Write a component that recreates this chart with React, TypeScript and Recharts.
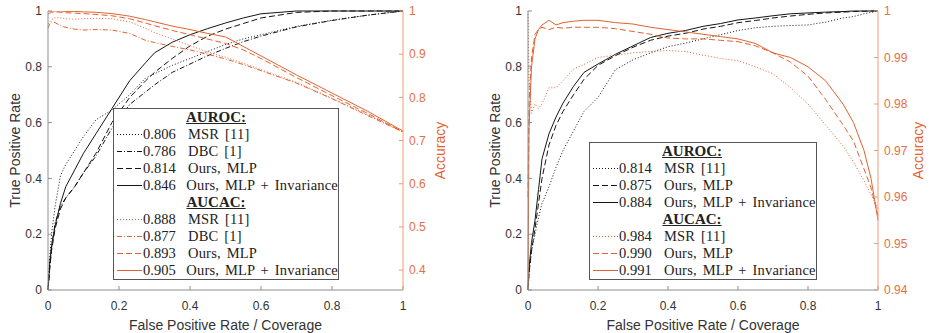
import React from "react";
import { LineChart, Line, XAxis, YAxis } from "recharts";

const ORANGE = "#E2622F";
const BLACK = "#151515";
const FRAME = "#8f8f8f";
const ACC_AXIS = "#EE9A76";
const TEXT = "#333";
const SANS = "'Liberation Sans', Arial, sans-serif";
const SERIF = "'Liberation Serif', 'Times New Roman', serif";

const fprTicks = [0, 0.2, 0.4, 0.6, 0.8, 1];

// left panel: FPR / coverage grid and curves
const leftX = [0, 0.005, 0.01, 0.02, 0.035, 0.05, 0.075, 0.1, 0.135, 0.18, 0.23, 0.275, 0.3, 0.35, 0.4, 0.45, 0.5, 0.55, 0.6, 0.7, 0.8, 0.9, 1];
const leftRocMsr = [0, 0.12, 0.2, 0.3, 0.41, 0.45, 0.5, 0.55, 0.61, 0.645, 0.7, 0.76, 0.775, 0.805, 0.83, 0.855, 0.88, 0.9, 0.915, 0.945, 0.967, 0.985, 1];
const leftRocDbc = [0, 0.08, 0.15, 0.24, 0.3, 0.33, 0.37, 0.42, 0.48, 0.58, 0.665, 0.71, 0.735, 0.78, 0.81, 0.84, 0.866, 0.89, 0.91, 0.943, 0.966, 0.985, 1];
const leftRocMlp = [0, 0.08, 0.14, 0.22, 0.29, 0.33, 0.37, 0.42, 0.49, 0.6, 0.69, 0.75, 0.78, 0.83, 0.875, 0.91, 0.935, 0.955, 0.975, 0.995, 1, 1, 1];
const leftRocInv = [0, 0.1, 0.16, 0.23, 0.31, 0.37, 0.43, 0.49, 0.56, 0.65, 0.75, 0.815, 0.85, 0.888, 0.915, 0.937, 0.957, 0.975, 0.99, 1, 1, 1, 1];
const leftAccMsr = [0.97, 0.975, 0.98, 0.985, 0.984, 0.982, 0.981, 0.982, 0.983, 0.982, 0.975, 0.96, 0.95, 0.935, 0.92, 0.905, 0.893, 0.879, 0.864, 0.835, 0.798, 0.76, 0.72];
const leftAccDbc = [0.96, 0.97, 0.975, 0.973, 0.966, 0.962, 0.958, 0.956, 0.957, 0.956, 0.948, 0.932, 0.927, 0.918, 0.91, 0.9, 0.889, 0.876, 0.862, 0.833, 0.797, 0.758, 0.72];
const leftAccMlp = [0.993, 0.995, 0.997, 0.998, 0.997, 0.996, 0.995, 0.994, 0.992, 0.989, 0.982, 0.972, 0.966, 0.955, 0.945, 0.935, 0.925, 0.91, 0.89, 0.846, 0.804, 0.763, 0.72];
const leftAccInv = [1, 1, 1, 1, 1, 0.999, 0.999, 0.998, 0.997, 0.994, 0.988, 0.98, 0.975, 0.965, 0.957, 0.948, 0.94, 0.918, 0.896, 0.852, 0.81, 0.768, 0.722];
const leftAccTicks = [0.4, 0.5, 0.6, 0.7, 0.8, 0.9, 1];

// right panel
const rightX = [0, 0.003, 0.01, 0.02, 0.03, 0.04, 0.06, 0.08, 0.1, 0.13, 0.16, 0.2, 0.25, 0.3, 0.35, 0.4, 0.45, 0.5, 0.55, 0.6, 0.65, 0.7, 0.75, 0.8, 0.85, 0.9, 0.93, 0.96, 0.98, 1];
const rightRocMsr = [0, 0.06, 0.14, 0.2, 0.26, 0.31, 0.37, 0.44, 0.5, 0.57, 0.64, 0.69, 0.79, 0.825, 0.85, 0.872, 0.885, 0.9, 0.915, 0.93, 0.94, 0.945, 0.948, 0.95, 0.96, 0.975, 0.98, 0.99, 0.995, 1];
const rightRocMlp = [0, 0.06, 0.14, 0.22, 0.31, 0.4, 0.52, 0.59, 0.64, 0.7, 0.755, 0.805, 0.84, 0.87, 0.895, 0.91, 0.92, 0.935, 0.945, 0.958, 0.966, 0.975, 0.982, 0.988, 0.993, 0.996, 0.998, 0.999, 1, 1];
const rightRocInv = [0, 0.08, 0.17, 0.25, 0.36, 0.47, 0.56, 0.62, 0.67, 0.73, 0.78, 0.81, 0.845, 0.875, 0.905, 0.92, 0.93, 0.945, 0.955, 0.968, 0.975, 0.983, 0.99, 0.993, 0.996, 0.998, 1, 1, 1, 1];
const rightAccMsr = [1, 0.985, 0.978, 0.98, 0.979, 0.98, 0.9835, 0.9835, 0.985, 0.9875, 0.9885, 0.99, 0.9905, 0.991, 0.9913, 0.9915, 0.9913, 0.9905, 0.9898, 0.9893, 0.988, 0.9865, 0.9835, 0.98, 0.9755, 0.971, 0.9675, 0.9635, 0.9605, 0.9575];
const rightAccMlp = [0.96, 0.98, 0.99, 0.995, 0.996, 0.9965, 0.996, 0.9965, 0.9963, 0.9965, 0.9965, 0.9965, 0.9962, 0.9956, 0.995, 0.9942, 0.994, 0.994, 0.9937, 0.9934, 0.9925, 0.991, 0.989, 0.986, 0.981, 0.9755, 0.972, 0.966, 0.962, 0.956];
const rightAccInv = [0.94, 0.975, 0.988, 0.994, 0.996, 0.997, 0.998, 0.997, 0.9975, 0.9978, 0.998, 0.998, 0.9975, 0.9972, 0.9965, 0.996, 0.9955, 0.995, 0.9945, 0.994, 0.993, 0.991, 0.99, 0.988, 0.985, 0.98, 0.976, 0.97, 0.964, 0.955];
const rightAccTicks = [0.94, 0.95, 0.96, 0.97, 0.98, 0.99, 1];

const DOTTED = "1 2";
const DASHDOT = "5 2 1 2";
const DASHED = "6 3";

type Series = { key: string; values: number[]; axis: "roc" | "acc"; color: string; dash?: string; auc: string; name: string };

const leftSeries: Series[] = [
  { key: "rocMsr", values: leftRocMsr, axis: "roc", color: BLACK, dash: DOTTED, auc: "0.806", name: "MSR [11]" },
  { key: "rocDbc", values: leftRocDbc, axis: "roc", color: BLACK, dash: DASHDOT, auc: "0.786", name: "DBC [1]" },
  { key: "rocMlp", values: leftRocMlp, axis: "roc", color: BLACK, dash: DASHED, auc: "0.814", name: "Ours, MLP" },
  { key: "rocInv", values: leftRocInv, axis: "roc", color: BLACK, auc: "0.846", name: "Ours, MLP + Invariance" },
  { key: "accMsr", values: leftAccMsr, axis: "acc", color: ORANGE, dash: DOTTED, auc: "0.888", name: "MSR [11]" },
  { key: "accDbc", values: leftAccDbc, axis: "acc", color: ORANGE, dash: DASHDOT, auc: "0.877", name: "DBC [1]" },
  { key: "accMlp", values: leftAccMlp, axis: "acc", color: ORANGE, dash: DASHED, auc: "0.893", name: "Ours, MLP" },
  { key: "accInv", values: leftAccInv, axis: "acc", color: ORANGE, auc: "0.905", name: "Ours, MLP + Invariance" },
];

const rightSeries: Series[] = [
  { key: "rocMsr", values: rightRocMsr, axis: "roc", color: BLACK, dash: DOTTED, auc: "0.814", name: "MSR [11]" },
  { key: "rocMlp", values: rightRocMlp, axis: "roc", color: BLACK, dash: DASHED, auc: "0.875", name: "Ours, MLP" },
  { key: "rocInv", values: rightRocInv, axis: "roc", color: BLACK, auc: "0.884", name: "Ours, MLP + Invariance" },
  { key: "accMsr", values: rightAccMsr, axis: "acc", color: ORANGE, dash: DOTTED, auc: "0.984", name: "MSR [11]" },
  { key: "accMlp", values: rightAccMlp, axis: "acc", color: ORANGE, dash: DASHED, auc: "0.990", name: "Ours, MLP" },
  { key: "accInv", values: rightAccInv, axis: "acc", color: ORANGE, auc: "0.991", name: "Ours, MLP + Invariance" },
];

function buildRows(xs: number[], series: Series[]) {
  return xs.map((x, i) => {
    const row: Record<string, number> = { x };
    series.forEach((s) => (row[s.key] = s.values[i]));
    return row;
  });
}

function LegendRow({ s }: { s: Series }) {
  return (
    <div style={{ display: "flex", alignItems: "center", height: 17 }}>
      <svg width={25} height={17} style={{ marginLeft: 3, flex: "none" }}>
        <line x1={0} x2={25} y1={8.5} y2={8.5} stroke={s.color} strokeWidth={1} strokeDasharray={s.dash} />
      </svg>
      <span style={{ width: 45, marginLeft: 1 }}>{s.auc}</span>
      <span style={{ whiteSpace: "nowrap", wordSpacing: 2, letterSpacing: 0.2 }}>{s.name}</span>
    </div>
  );
}

function LegendBox({ left, top, width, series }: { left: number; top: number; width: number; series: Series[] }) {
  const heading = (t: string) => (
    <div style={{ width: 204, height: 17, textAlign: "center", fontWeight: "bold", textDecoration: "underline", fontSize: 15 }}>{t}</div>
  );
  return (
    <div
      style={{
        position: "absolute", left, top, width, boxSizing: "border-box",
        border: "1px solid #555", background: "#fff", fontFamily: SERIF,
        fontSize: 14.5, lineHeight: "17px", color: "#222",
      }}
    >
      {heading("AUROC:")}
      {series.filter((s) => s.axis === "roc").map((s) => <LegendRow key={s.key} s={s} />)}
      {heading("AUCAC:")}
      {series.filter((s) => s.axis === "acc").map((s) => <LegendRow key={s.key} s={s} />)}
    </div>
  );
}

type PanelProps = {
  left: number;
  width: number;
  xs: number[];
  series: Series[];
  accDomain: [number, number];
  accTicks: number[];
  rocWidth: number;
  accWidth: number;
  rocLabelOffset: number;
  accLabelOffset: number;
  legend: { left: number; top: number; width: number };
};

function Panel(p: PanelProps) {
  const rows = buildRows(p.xs, p.series);
  const tickFont = { fill: TEXT, fontSize: 12, fontFamily: SANS };
  return (
    <div style={{ position: "absolute", left: p.left, top: 0, width: p.width, height: 333 }}>
      <LineChart width={p.width} height={333} data={rows} margin={{ top: 11, right: 0, bottom: 0, left: 0 }}>
        <XAxis xAxisId="top" orientation="top" type="number" dataKey="x" domain={[0, 1]} ticks={fprTicks}
          height={0} tick={false} tickSize={-4} stroke={FRAME} />
        <XAxis type="number" dataKey="x" domain={[0, 1]} ticks={fprTicks} height={43}
          tickSize={-4} tickMargin={15} stroke={FRAME} tick={tickFont}
          label={{ value: "False Positive Rate / Coverage", position: "insideBottom", offset: 3,
            style: { fill: TEXT, fontSize: 14, fontFamily: SANS } }} />
        <YAxis yAxisId="roc" type="number" domain={[0, 1]} ticks={fprTicks} width={p.rocWidth}
          tickSize={-4} tickMargin={10} stroke={FRAME} tick={tickFont}
          label={{ value: "True Positive Rate", angle: -90, position: "insideLeft", offset: p.rocLabelOffset,
            style: { textAnchor: "middle", fill: TEXT, fontSize: 14, fontFamily: SANS } }} />
        <YAxis yAxisId="acc" orientation="right" type="number" domain={p.accDomain} allowDataOverflow
          ticks={p.accTicks} width={p.accWidth} tickSize={-4} tickMargin={10} stroke={ACC_AXIS}
          tick={{ ...tickFont, fill: "#E4703F" }}
          label={{ value: "Accuracy", angle: -90, position: "insideRight", offset: p.accLabelOffset,
            style: { textAnchor: "middle", fill: ORANGE, fontSize: 14, fontFamily: SANS } }} />
        {p.series.map((s) => (
          <Line key={s.key} yAxisId={s.axis} dataKey={s.key} type="linear" stroke={s.color} strokeWidth={1}
            strokeDasharray={s.dash} dot={false} activeDot={false} isAnimationActive={false} />
        ))}
      </LineChart>
      <LegendBox {...p.legend} series={p.series} />
    </div>
  );
}

export default function App() {
  return (
    <div style={{ position: "absolute", left: 0, top: 0, width: 937, height: 333, background: "#fff", overflow: "hidden" }}>
      <Panel left={0} width={470} xs={leftX} series={leftSeries} accDomain={[0.354, 1]} accTicks={leftAccTicks}
        rocWidth={48} accWidth={67} rocLabelOffset={15} accLabelOffset={30}
        legend={{ left: 113, top: 108, width: 226 }} />
      <Panel left={470} width={467} xs={rightX} series={rightSeries} accDomain={[0.94, 1]} accTicks={rightAccTicks}
        rocWidth={58} accWidth={59} rocLabelOffset={25} accLabelOffset={19}
        legend={{ left: 119, top: 142, width: 228 }} />
    </div>
  );
}
